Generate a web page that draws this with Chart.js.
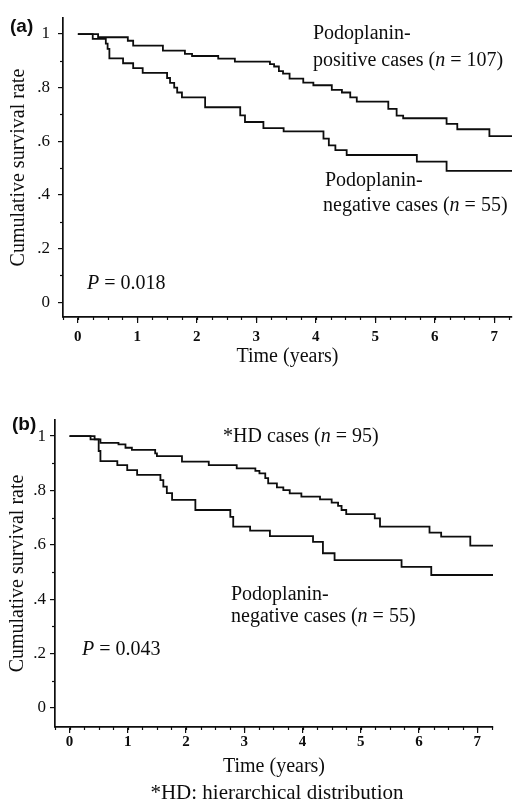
<!DOCTYPE html>
<html>
<head>
<meta charset="utf-8">
<script src="https://cdn.jsdelivr.net/npm/chart.js@4.4.1/dist/chart.umd.min.js"></script>
<style>
  html, body { margin: 0; padding: 0; background: #fff; overflow: hidden; }
  body { width: 517px; height: 801px; position: relative; color: #0d0d0d;
         font-family: "Liberation Serif", "Times New Roman", serif; }
  canvas { position: absolute; left: 0; }
  .t { position: absolute; font-size: 20px; line-height: 20px; white-space: nowrap; }
  .lab { position: absolute; font-family: "Liberation Sans", Arial, sans-serif;
         font-weight: bold; font-size: 19px; line-height: 19px; }
</style>
</head>
<body>
<canvas id="chartA" width="517" height="375" style="top:0"></canvas>
<canvas id="chartB" width="517" height="416" style="top:385px"></canvas>

<div class="lab" style="left:10px;top:16px">(a)</div>
<div class="t" style="left:313px;top:22px">Podoplanin-</div>
<div class="t" style="left:313px;top:49px">positive cases (<i>n</i> = 107)</div>
<div class="t" style="left:325px;top:169px">Podoplanin-</div>
<div class="t" style="left:323px;top:194px">negative cases (<i>n</i> = 55)</div>
<div class="t" style="left:87px;top:272px"><i>P</i> = 0.018</div>

<div class="lab" style="left:12px;top:414px">(b)</div>
<div class="t" style="left:223px;top:425px">*HD cases (<i>n</i> = 95)</div>
<div class="t" style="left:231px;top:583px">Podoplanin-</div>
<div class="t" style="left:231px;top:605px">negative cases (<i>n</i> = 55)</div>
<div class="t" style="left:82px;top:638px"><i>P</i> = 0.043</div>
<div class="t" style="left:277px;top:782px;transform:translateX(-50%);font-size:21px">*HD: hierarchical distribution</div>

<script>
// ---- axis ticks ----
const xTicks = [0, 1, 2, 3, 4, 5, 6, 7];
const yTicks = [0, 0.2, 0.4, 0.6, 0.8, 1];
const yTickLabels = ['0', '.2', '.4', '.6', '.8', '1'];

// ---- (a) podoplanin-positive (n = 107) vs negative (n = 55) ----
const timeA_pos = [0, 0.34, 0.84, 0.93, 1.43, 1.80, 1.92, 2.36, 2.64, 3.23, 3.30, 3.38, 3.45, 3.56, 3.79, 3.96, 4.27, 4.44, 4.58, 4.69, 5.22, 5.36, 5.47, 6.20, 6.38, 6.92, 7.30];
const survA_pos = [1, 0.988, 0.975, 0.957, 0.938, 0.926, 0.918, 0.908, 0.897, 0.888, 0.879, 0.862, 0.852, 0.834, 0.819, 0.809, 0.792, 0.782, 0.764, 0.748, 0.721, 0.696, 0.686, 0.665, 0.645, 0.619, 0.619];
const timeA_neg = [0, 0.25, 0.47, 0.50, 0.53, 0.76, 0.93, 1.09, 1.50, 1.55, 1.62, 1.67, 1.75, 2.14, 2.73, 2.81, 3.12, 3.46, 4.13, 4.22, 4.33, 4.52, 5.70, 6.20, 7.30];
const survA_neg = [1, 0.982, 0.964, 0.945, 0.909, 0.891, 0.873, 0.855, 0.836, 0.818, 0.800, 0.782, 0.764, 0.727, 0.697, 0.672, 0.649, 0.637, 0.610, 0.585, 0.567, 0.549, 0.524, 0.490, 0.490];

// ---- (b) HD cases (n = 95) vs podoplanin-negative (n = 55) ----
const timeB_hd = [0, 0.43, 0.53, 0.84, 0.96, 1.07, 1.47, 1.50, 1.93, 2.39, 2.87, 3.19, 3.26, 3.36, 3.41, 3.56, 3.67, 3.78, 3.98, 4.30, 4.50, 4.61, 4.67, 4.75, 5.24, 5.33, 6.18, 6.38, 6.88, 7.27];
const survB_hd = [1, 0.988, 0.975, 0.969, 0.957, 0.949, 0.936, 0.926, 0.906, 0.893, 0.881, 0.872, 0.863, 0.845, 0.826, 0.811, 0.801, 0.789, 0.777, 0.767, 0.755, 0.743, 0.728, 0.713, 0.697, 0.667, 0.645, 0.630, 0.597, 0.597];
const timeB_neg = [0, 0.36, 0.50, 0.53, 0.82, 0.99, 1.16, 1.56, 1.61, 1.67, 1.76, 2.16, 2.76, 2.81, 3.10, 3.44, 4.18, 4.35, 4.55, 5.70, 6.21, 7.27];
const survB_neg = [1, 0.988, 0.945, 0.908, 0.893, 0.875, 0.857, 0.838, 0.814, 0.790, 0.765, 0.728, 0.703, 0.667, 0.652, 0.632, 0.611, 0.569, 0.544, 0.519, 0.489, 0.489];

const INK = '#0d0d0d';
const SERIF = '"Liberation Serif", "Times New Roman", serif';

// short unlabelled ticks between the labelled ones
const minorTicks = {
  id: 'minorTicks',
  afterDraw(chart) {
    const { ctx, scales: { x, y } } = chart;
    ctx.save();
    ctx.strokeStyle = INK;
    ctx.lineWidth = 1.2;
    for (let v = Math.ceil(x.min / 0.25) * 0.25; v <= x.max + 1e-9; v += 0.25) {
      const px = Math.round(x.getPixelForValue(v)) + 0.5;
      ctx.beginPath(); ctx.moveTo(px, x.top); ctx.lineTo(px, x.top + 3); ctx.stroke();
    }
    for (let v = 0.1; v < 1; v += 0.2) {
      const py = Math.round(y.getPixelForValue(v)) + 0.5;
      ctx.beginPath(); ctx.moveTo(y.right, py); ctx.lineTo(y.right - 3, py); ctx.stroke();
    }
    ctx.restore();
  }
};

function pts(times, surv) {
  return times.map((t, i) => ({ x: t, y: surv[i] }));
}

function survivalChart(id, series, o) {
  return new Chart(document.getElementById(id), {
    type: 'line',
    data: {
      datasets: series.map(s => ({
        data: s,
        borderColor: INK,
        borderWidth: 1.8,
        pointRadius: 0,
        stepped: true,
        fill: false
      }))
    },
    options: {
      responsive: false,
      animation: false,
      layout: { padding: o.pad },
      plugins: { legend: { display: false }, tooltip: { enabled: false } },
      scales: {
        x: {
          type: 'linear',
          min: o.xMin, max: o.xMax,
          afterFit: s => { s.height = o.xHeight; },
          afterBuildTicks: s => { s.ticks = xTicks.map(v => ({ value: v })); },
          ticks: {
            autoSkip: false, maxRotation: 0, padding: o.xTickPad, color: INK,
            font: { family: SERIF, size: 15, weight: 'bold' },
            callback: v => String(v)
          },
          grid: { drawOnChartArea: false, tickLength: 6, color: INK, lineWidth: 1.2 },
          border: { color: INK, width: 1.7 },
          title: {
            display: true, text: 'Time (years)', color: INK,
            font: { family: SERIF, size: 20 },
            padding: { top: 0, bottom: o.xTitlePad }
          }
        },
        y: {
          type: 'linear',
          min: o.yMin, max: o.yMax,
          afterFit: s => { s.width = o.yWidth; },
          afterBuildTicks: s => { s.ticks = yTicks.map(v => ({ value: v })); },
          ticks: {
            autoSkip: false, padding: o.yTickPad, color: INK,
            font: { family: SERIF, size: 17 },
            callback: (v, i) => yTickLabels[i]
          },
          grid: { drawOnChartArea: false, tickLength: 5, color: INK, lineWidth: 1.2 },
          border: { color: INK, width: 1.7 },
          title: {
            display: true, text: 'Cumulative survival rate', color: INK,
            font: { family: SERIF, size: 20 },
            padding: { top: o.yTitlePad, bottom: 0 }
          }
        }
      }
    },
    plugins: [minorTicks]
  });
}

survivalChart('chartA', [pts(timeA_pos, survA_pos), pts(timeA_neg, survA_neg)], {
  pad: { left: 0, top: 15, right: 5, bottom: 0 },
  xMin: -0.25, xMax: 7.3, yMin: -0.055, yMax: 1.059,
  xHeight: 58, yWidth: 63,
  xTickPad: 5, yTickPad: 8, xTitlePad: 6, yTitlePad: 7
});

survivalChart('chartB', [pts(timeB_hd, survB_hd), pts(timeB_neg, survB_neg)], {
  pad: { left: 0, top: 35, right: 24, bottom: 0 },
  xMin: -0.25, xMax: 7.27, yMin: -0.07, yMax: 1.059,
  xHeight: 74, yWidth: 55,
  xTickPad: 0, yTickPad: 4, xTitlePad: 22, yTitlePad: 5.5
});
</script>
</body>
</html>
